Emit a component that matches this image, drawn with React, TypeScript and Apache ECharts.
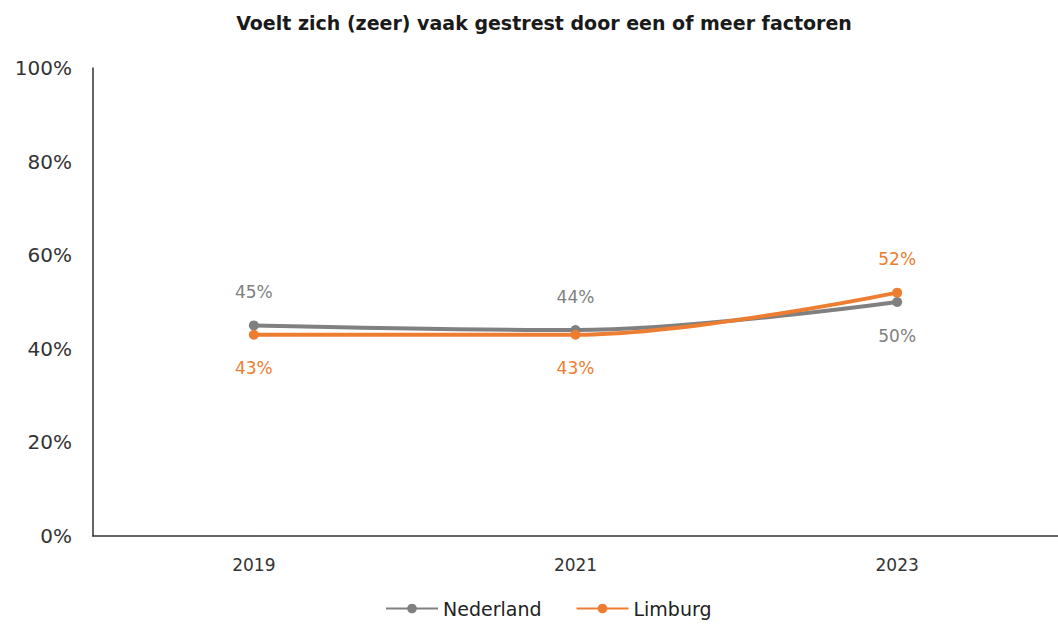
import React, { useEffect, useRef } from "react";
import * as echarts from "echarts";

const TITLE = "Voelt zich (zeer) vaak gestrest door een of meer factoren";
const YEARS = ["2019", "2021", "2023"];
const NEDERLAND = [45, 44, 50];
const LIMBURG = [43, 43, 52];
const NL_LABEL_POS = ["top", "top", "bottom"];
const LB_LABEL_POS = ["bottom", "bottom", "top"];

const GRAY = "#808080";
const ORANGE = "#ED7D31";
const FONT = "'DejaVu Sans', sans-serif";

export default function App() {
  const ref = useRef<HTMLDivElement>(null);
  useEffect(() => {
    if (!ref.current) return;
    const chart = echarts.init(ref.current, null, { renderer: "svg" });
    const mk = (name: string, vals: number[], pos: string[], color: string) => ({
      name,
      type: "line",
      smooth: 0.35,
      symbol: "circle",
      symbolSize: 10,
      lineStyle: { width: 4, color },
      itemStyle: { color },
      data: vals.map((v, i) => ({
        value: v,
        label: { position: pos[i] },
      })),
      label: {
        show: true,
        distance: 20,
        formatter: (p: any) => p.value + "%",
        color,
        fontSize: 17,
        fontFamily: FONT,
      },
    });
    chart.setOption({
      animation: false,
      title: {
        text: TITLE,
        left: 539,
        textAlign: "center",
        top: 8,
        textStyle: { fontSize: 19, fontWeight: "bold", color: "#1a1a1a", fontFamily: FONT },
      },
      grid: { left: 93, top: 68, bottom: 91, width: 972 },
      xAxis: {
        type: "category",
        data: YEARS,
        boundaryGap: true,
        axisLine: { lineStyle: { color: "#333", width: 1.5 } },
        axisTick: { show: false },
        axisLabel: { color: "#333", fontSize: 17, margin: 20, fontFamily: FONT },
      },
      yAxis: {
        type: "value",
        min: 0,
        max: 100,
        interval: 20,
        axisLine: { show: true, lineStyle: { color: "#333", width: 1.5 } },
        axisTick: { show: false },
        splitLine: { show: false },
        axisLabel: {
          formatter: "{value}%",
          color: "#333",
          fontSize: 20,
          margin: 21,
          fontFamily: FONT,
        },
      },
      legend: {
        bottom: 4,
        left: 380,
        itemWidth: 52,
        itemHeight: 12,
        itemGap: 34,
        textStyle: { fontSize: 19, color: "#222", fontFamily: FONT },
        data: ["Nederland", "Limburg"],
      },
      series: [
        mk("Nederland", NEDERLAND, NL_LABEL_POS, GRAY),
        mk("Limburg", LIMBURG, LB_LABEL_POS, ORANGE),
      ],
    });
    return () => chart.dispose();
  }, []);
  return (
    <div
      ref={ref}
      style={{ position: "fixed", left: 0, top: 0, width: 1058, height: 627, background: "#fff" }}
    />
  );
}
